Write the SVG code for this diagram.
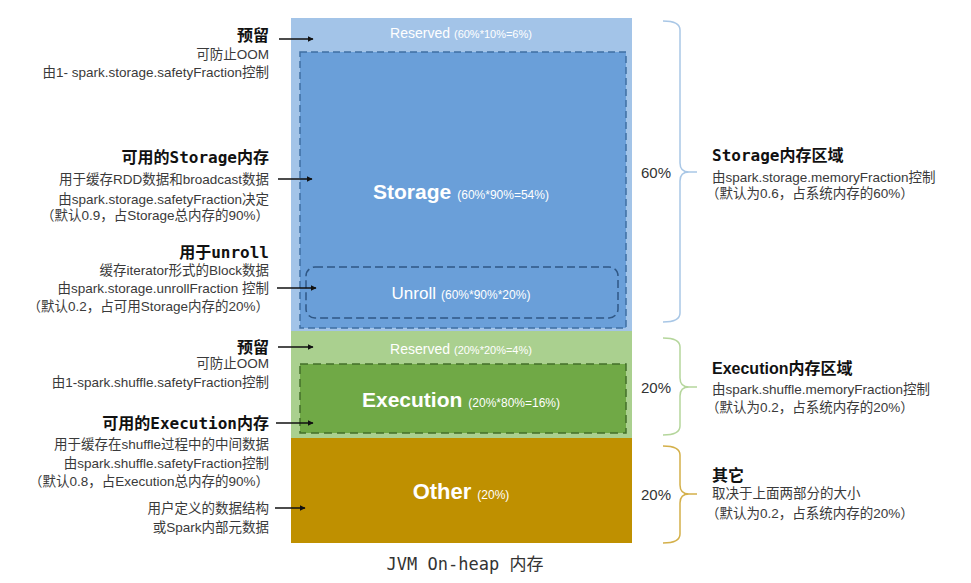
<svg xmlns="http://www.w3.org/2000/svg" width="971" height="583" viewBox="0 0 971 583">
<style>
.t{font-family:"Liberation Sans","Noto Sans CJK SC",sans-serif;font-size:13.5px;fill:#3a3a3a}
.h{font-family:"DejaVu Sans Mono","Noto Sans CJK SC",monospace;font-size:16px;font-weight:bold;fill:#111}
.hs{font-family:"Liberation Sans","Noto Sans CJK SC",sans-serif;font-size:16px;font-weight:bold;fill:#111}
.e{text-anchor:end}
.w{font-family:"Liberation Sans","Noto Sans CJK SC",sans-serif;fill:#fff;text-anchor:middle}
.big{font-size:21px;font-weight:bold}
.sm{font-size:11px}
.pct{font-family:"Liberation Sans",sans-serif;font-size:15px;fill:#333;text-anchor:middle}
.arr{stroke:#111;stroke-width:1.5;fill:none;marker-end:url(#ah)}
.br{fill:none;stroke-width:1.5}
</style>
<defs>
<marker id="ah" viewBox="0 0 10 10" refX="9" refY="5" markerWidth="6" markerHeight="6" orient="auto" markerUnits="userSpaceOnUse">
<path d="M0,0 L10,5 L0,10 z" fill="#111"/>
</marker>
</defs>
<rect width="971" height="583" fill="#fff"/>

<g id="storage-region">
<rect x="291" y="18" width="341" height="313" fill="#a3c4e8"/>
<text class="w" x="461" y="38"><tspan style="font-size:14px">Reserved</tspan><tspan class="sm" dx="4">(60%*10%=6%)</tspan></text>
</g>
<g id="storage">
<rect x="300" y="52" width="326" height="276" fill="#6a9fd9" stroke="#3f6fa3" stroke-width="1.5" stroke-dasharray="7,4"/>
<text class="w" x="461" y="199"><tspan class="big">Storage</tspan><tspan style="font-size:12px" dx="6">(60%*90%=54%)</tspan></text>
</g>
<g id="unroll">
<rect x="306" y="267" width="312" height="51" rx="9" fill="#6a9fd9" stroke="#2f5785" stroke-width="1.5" stroke-dasharray="8,4"/>
<text class="w" x="461" y="299"><tspan style="font-size:17px">Unroll</tspan><tspan style="font-size:12px" dx="5">(60%*90%*20%)</tspan></text>
</g>
<g id="execution-region">
<rect x="291" y="331" width="341" height="107" fill="#aad08f"/>
<text class="w" x="461" y="354"><tspan style="font-size:14px">Reserved</tspan><tspan class="sm" dx="4">(20%*20%=4%)</tspan></text>
</g>
<g id="execution">
<rect x="300" y="364" width="326" height="69" fill="#70a946" stroke="#436f2a" stroke-width="1.5" stroke-dasharray="8,5"/>
<text class="w" x="461" y="407"><tspan class="big">Execution</tspan><tspan style="font-size:12px" dx="6">(20%*80%=16%)</tspan></text>
</g>
<g id="other">
<rect x="291" y="438" width="341" height="105" fill="#bf9000"/>
<text class="w" x="461" y="499"><tspan class="big" style="font-size:22px">Other</tspan><tspan style="font-size:12px" dx="6">(20%)</tspan></text>
</g>
<g id="caption">
<text x="465" y="570" text-anchor="middle" style="font-family:'DejaVu Sans Mono','Noto Sans CJK SC',monospace;font-size:17px;fill:#333">JVM On-heap 内存</text>
</g>

<g id="left-reserved-storage">
<text class="h e" x="269" y="41">预留</text>
<text class="t e" x="269" y="59">可防止OOM</text>
<text class="t e" x="269" y="77">由1- spark.storage.safetyFraction控制</text>
</g>
<g id="left-storage">
<text class="h e" x="269" y="163">可用的Storage内存</text>
<text class="t e" x="269" y="184">用于缓存RDD数据和broadcast数据</text>
<text class="t e" x="269" y="204">由spark.storage.safetyFraction决定</text>
<text class="t e" x="269" y="220">（默认0.9，占Storage总内存的90%）</text>
</g>
<g id="left-unroll">
<text class="h e" x="269" y="258">用于unroll</text>
<text class="t e" x="269" y="275">缓存iterator形式的Block数据</text>
<text class="t e" x="269" y="293">由spark.storage.unrollFraction 控制</text>
<text class="t e" x="269" y="311">（默认0.2，占可用Storage内存的20%）</text>
</g>
<g id="left-reserved-exec">
<text class="h e" x="269" y="353">预留</text>
<text class="t e" x="269" y="368">可防止OOM</text>
<text class="t e" x="269" y="387">由1-spark.shuffle.safetyFraction控制</text>
</g>
<g id="left-execution">
<text class="h e" x="269" y="429">可用的Execution内存</text>
<text class="t e" x="269" y="449">用于缓存在shuffle过程中的中间数据</text>
<text class="t e" x="269" y="468">由spark.shuffle.safetyFraction控制</text>
<text class="t e" x="269" y="486">（默认0.8，占Execution总内存的90%）</text>
</g>
<g id="left-other">
<text class="t e" x="269" y="513">用户定义的数据结构</text>
<text class="t e" x="269" y="532">或Spark内部元数据</text>
</g>

<g id="connectors">
<line class="arr" x1="279" y1="39" x2="313" y2="39"/>
<line class="arr" x1="278" y1="179" x2="312" y2="179"/>
<line class="arr" x1="277" y1="288" x2="316" y2="288"/>
<line class="arr" x1="278" y1="347" x2="313" y2="347"/>
<line class="arr" x1="276" y1="423" x2="313" y2="423"/>
<line class="arr" x1="275" y1="508" x2="305" y2="508"/>
</g>

<g id="brace-storage">
<path class="br" stroke="#a9c7e6" d="M663,21 Q680,21 680,30 L680,163 Q680,172 689,172 L697,172 M689,172 Q680,172 680,181 L680,313 Q680,322 663,322"/>
<text class="pct" x="656" y="178">60%</text>
<text class="h" x="712" y="161">Storage内存区域</text>
<text class="t" x="712" y="182">由spark.storage.memoryFraction控制</text>
<text class="t" x="706" y="198">（默认为0.6，占系统内存的60%）</text>
</g>
<g id="brace-execution">
<path class="br" stroke="#b5d69c" d="M663,338 Q680,338 680,347 L680,378 Q680,387 689,387 L697,387 M689,387 Q680,387 680,396 L680,426 Q680,435 663,435"/>
<text class="pct" x="656" y="393">20%</text>
<text class="hs" x="712" y="374">Execution内存区域</text>
<text class="t" x="712" y="394">由spark.shuffle.memoryFraction控制</text>
<text class="t" x="706" y="412">（默认为0.2，占系统内存的20%）</text>
</g>
<g id="brace-other">
<path class="br" stroke="#d4b04a" d="M663,446 Q680,446 680,455 L680,485 Q680,494 689,494 L697,494 M689,494 Q680,494 680,503 L680,534 Q680,543 663,543"/>
<text class="pct" x="656" y="500">20%</text>
<text class="hs" x="712" y="481">其它</text>
<text class="t" x="712" y="498">取决于上面两部分的大小</text>
<text class="t" x="706" y="518">（默认为0.2，占系统内存的20%）</text>
</g>
</svg>
